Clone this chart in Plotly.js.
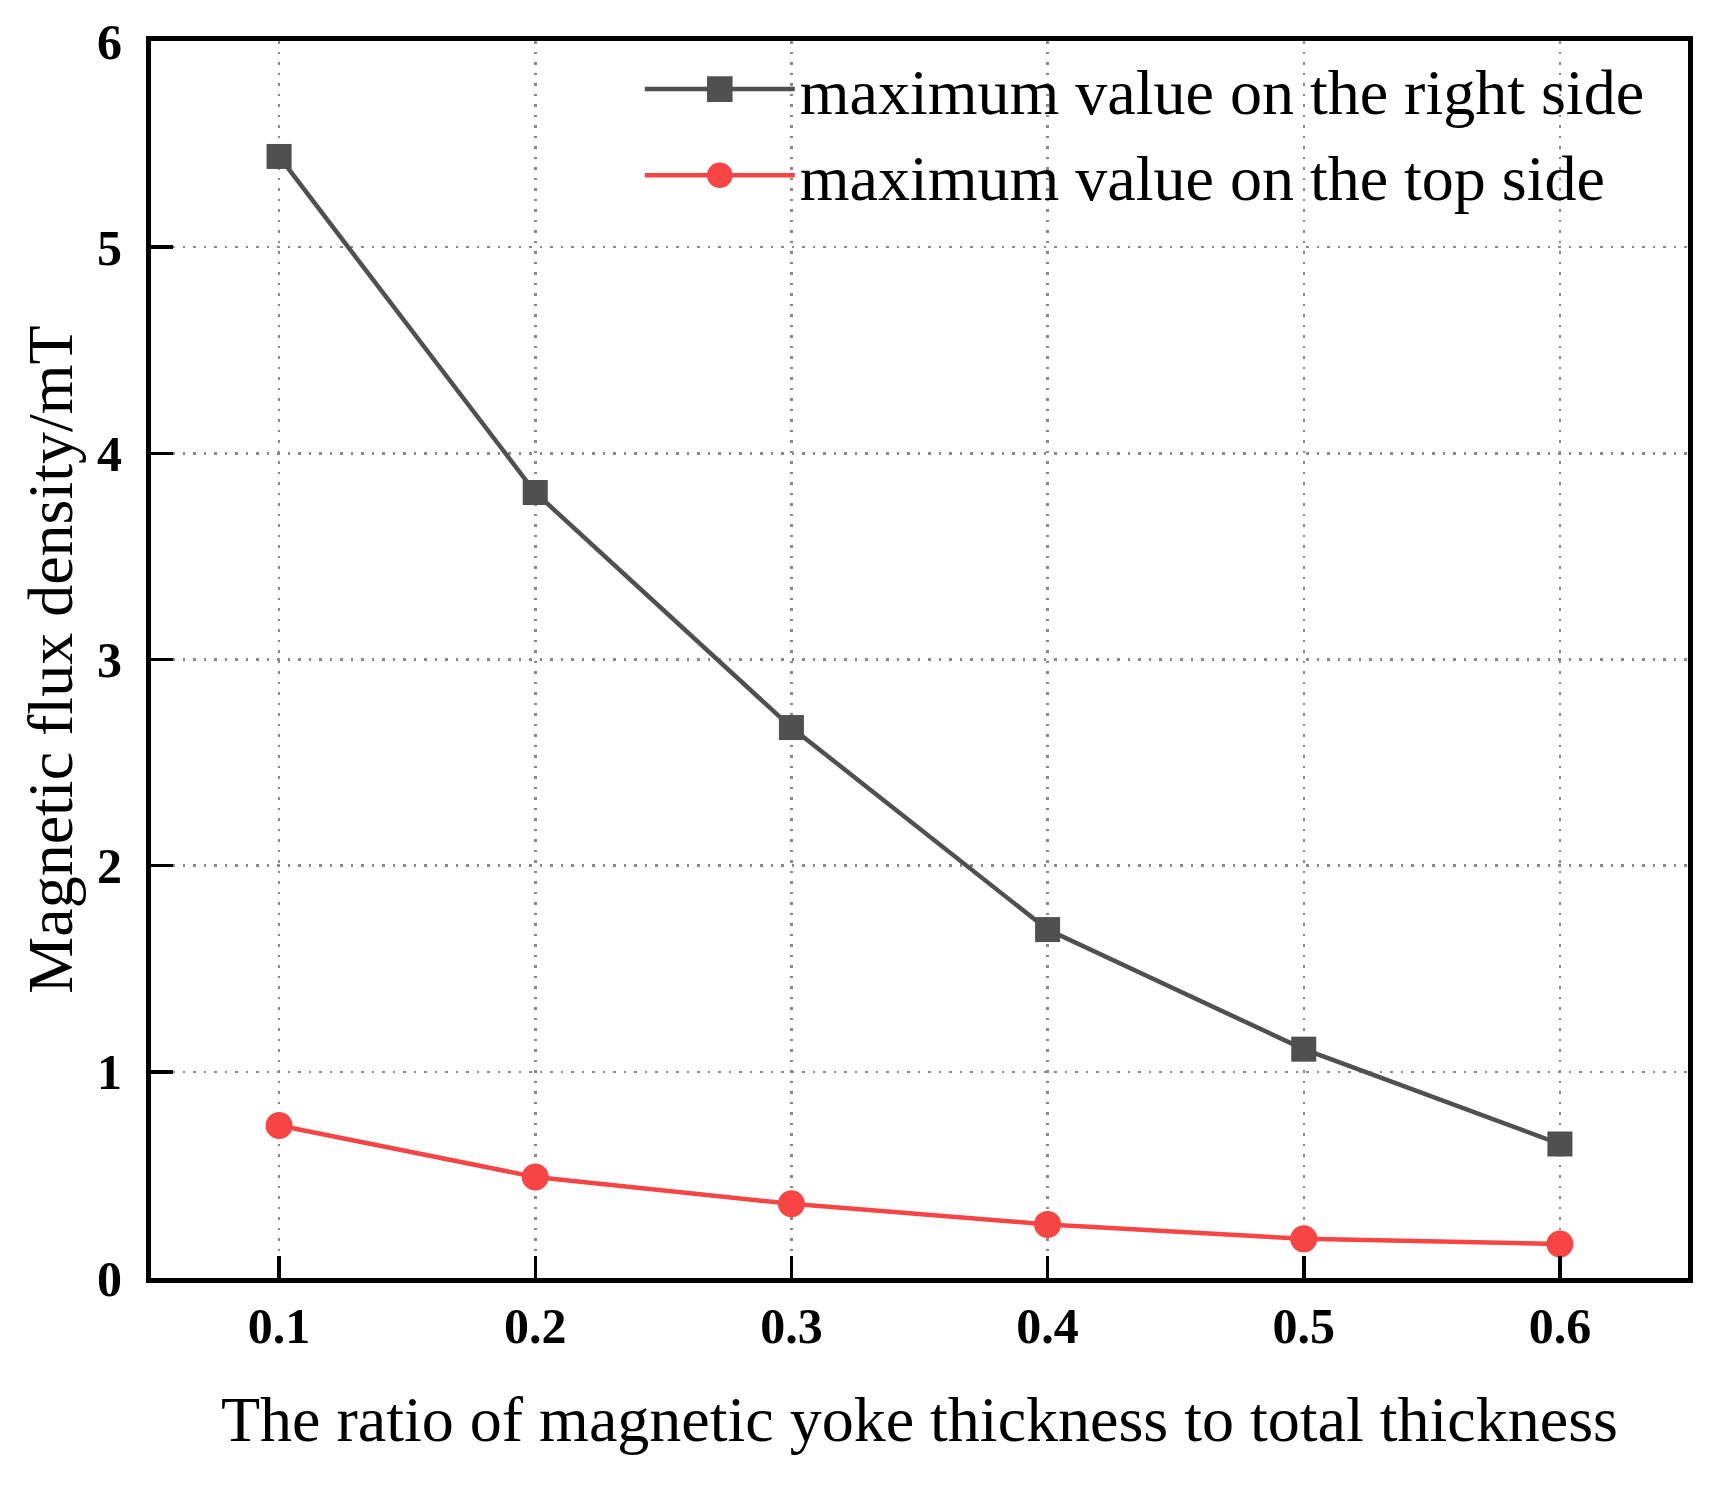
<!DOCTYPE html>
<html>
<head>
<meta charset="utf-8">
<script src="https://cdn.plot.ly/plotly-3.0.1.min.js"></script>
<style>
  html, body { margin: 0; padding: 0; background: #fff; }
  #chart { width: 1711px; height: 1485px; }
</style>
</head>
<body>
<div id="chart"></div>
<script>
// yoke thickness ratio vs. max flux density
let ratio = [0.1, 0.2, 0.3, 0.4, 0.5, 0.6];
let rightSide = [5.44, 3.81, 2.67, 1.69, 1.11, 0.65];
let topSide = [0.74, 0.49, 0.36, 0.26, 0.19, 0.165];

let xTicks = [0.1, 0.2, 0.3, 0.4, 0.5, 0.6];
let yTicks = [0, 1, 2, 3, 4, 5, 6];

const serif = "Liberation Serif, Times New Roman, serif";

let traces = [
  {
    x: ratio,
    y: rightSide,
    mode: "lines+markers",
    name: "maximum value on the right side",
    line: { color: "#505050", width: 4.5 },
    marker: { symbol: "square", size: 25, color: "#505050" },
  },
  {
    x: ratio,
    y: topSide,
    mode: "lines+markers",
    name: "maximum value on the top side",
    line: { color: "#f74444", width: 4.5 },
    marker: { symbol: "circle", size: 27, color: "#f74444" },
  },
];

let axisCommon = {
  showline: true,
  linecolor: "#000",
  linewidth: 5,
  mirror: true,
  ticks: "inside",
  ticklen: 22,
  tickwidth: 3.5,
  tickcolor: "#000",
  showgrid: true,
  gridcolor: "#8a8a8a",
  gridwidth: 2.5,
  griddash: "2.5px,8px",
  zeroline: false,
  tickfont: { family: serif, size: 50, color: "#000", weight: "bold" },
};

let layout = {
  width: 1711,
  height: 1485,
  paper_bgcolor: "#fff",
  plot_bgcolor: "#fff",
  margin: { l: 151, r: 23, t: 41, b: 207, pad: 0 },
  showlegend: true,
  legend: {
    x: 0.318,
    xanchor: "left",
    y: 1.0,
    yanchor: "top",
    bgcolor: "rgba(0,0,0,0)",
    font: { family: serif, size: 64, color: "#000" },
    itemwidth: 150,
    tracegroupgap: 0,
  },
  xaxis: Object.assign({}, axisCommon, {
    range: [0.05, 0.65],
    tickvals: xTicks,
    ticktext: xTicks.map((v) => v.toFixed(1)),
    ticklabelstandoff: 0,
    title: {
      text: "The ratio of magnetic yoke thickness to total thickness",
      font: { family: serif, size: 64, color: "#000" },
      standoff: 45,
    },
  }),
  yaxis: Object.assign({}, axisCommon, {
    range: [0, 6],
    tickvals: yTicks,
    ticktext: yTicks.map(String),
    ticklabelstandoff: 14,
    title: {
      text: "Magnetic flux density/mT",
      font: { family: serif, size: 64, color: "#000" },
      standoff: 5,
    },
  }),
};

Plotly.newPlot("chart", traces, layout, { staticPlot: true, displayModeBar: false }).then(function (gd) {
  // legend markers are capped at 16px by plotly, scale them up to match the plot markers
  gd.querySelectorAll(".legend .legendpoints path.scatterpts").forEach(function (p) {
    let t = p.getAttribute("transform") || "";
    p.setAttribute("transform", t + " scale(1.6)");
  });
});
</script>
</body>
</html>
